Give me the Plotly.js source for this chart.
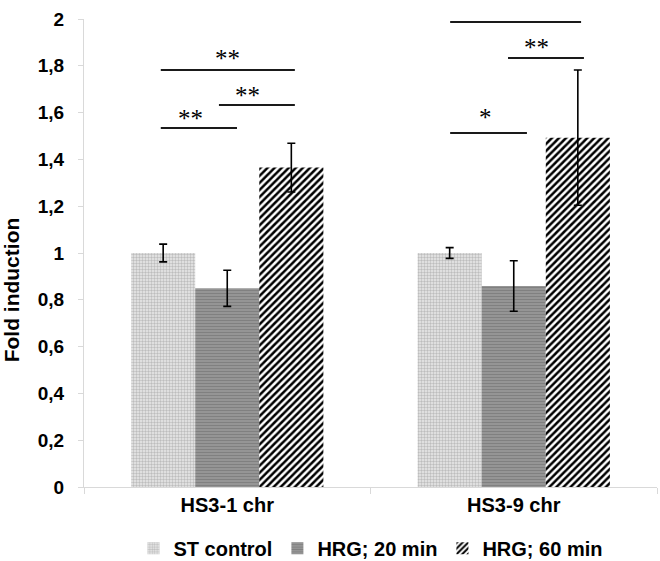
<!DOCTYPE html>
<html>
<head>
<meta charset="utf-8">
<script src="https://cdn.plot.ly/plotly-3.0.1.min.js"></script>
<style>html,body{margin:0;padding:0;background:#fff;}#chart{width:660px;height:561px;}</style>
</head>
<body>
<div id="chart"></div>
<script>
// ---- data ----
const categories = ['HS3-1 chr', 'HS3-9 chr'];
const seriesNames = ['ST control', 'HRG; 20 min', 'HRG; 60 min'];
const stControl = [1.0, 1.0];
const stControlErr = [0.038, 0.023];
const hrg20 = [0.849, 0.859];
const hrg20Err = [0.077, 0.108];
const hrg60 = [1.365, 1.493];
const hrg60Err = [0.104, 0.289];

const yTickVals = [0, 0.2, 0.4, 0.6, 0.8, 1, 1.2, 1.4, 1.6, 1.8, 2];
const yTickText = ['0', '0,2', '0,4', '0,6', '0,8', '1', '1,2', '1,4', '1,6', '1,8', '2'];

// significance brackets (category-index units on x, data units on y)
const bracketX0 = [-0.232, -0.029, -0.232, 0.778, 0.980, 0.778];
const bracketX1 = [0.236, 0.236, 0.034, 1.235, 1.245, 1.046];
const bracketY  = [1.782, 1.632, 1.534, 1.987, 1.833, 1.513];
const starX     = [0.0, 0.07, -0.13, 0.952, 1.081, 0.903];
const starY     = [1.830, 1.672, 1.574, 2.023, 1.877, 1.578];
const starText  = ['**', '**', '**', '**', '**', '*'];

const FONT = 'Liberation Sans, Arial, sans-serif';

const errStyle = {type: 'data', visible: true, color: '#000', thickness: 1.6, width: 4};

const traces = [
  {
    type: 'bar', name: seriesNames[0], x: categories, y: stControl,
    error_y: Object.assign({array: stControlErr}, errStyle),
    marker: {color: '#e3e3e3', line: {width: 0},
      pattern: {shape: '.', bgcolor: '#ebebeb', fgcolor: '#bdbdbd', size: 3, solidity: 0.5, fillmode: 'replace'}}
  },
  {
    type: 'bar', name: seriesNames[1], x: categories, y: hrg20,
    error_y: Object.assign({array: hrg20Err}, errStyle),
    marker: {color: '#909090', line: {width: 0},
      pattern: {shape: '-', bgcolor: '#9c9c9c', fgcolor: '#808080', size: 3, solidity: 0.5, fillmode: 'replace'}}
  },
  {
    type: 'bar', name: seriesNames[2], x: categories, y: hrg60,
    error_y: Object.assign({array: hrg60Err}, errStyle),
    marker: {color: '#ffffff', line: {width: 0},
      pattern: {shape: '/', bgcolor: '#ffffff', fgcolor: '#000000', size: 5, solidity: 0.5, fillmode: 'replace'}}
  }
];

const shapes = bracketY.map((y, i) => ({
  type: 'line', xref: 'x', yref: 'y',
  x0: bracketX0[i], x1: bracketX1[i], y0: y, y1: y,
  line: {color: '#1a1a1a', width: 2}
}));

const annotations = starText.map((t, i) => ({
  xref: 'x', yref: 'y', x: starX[i], y: starY[i], text: t,
  showarrow: false, xanchor: 'center', yanchor: 'middle',
  font: {family: 'Liberation Serif, Times New Roman, serif', size: 25, color: '#000'}
}));
annotations.push({
  xref: 'paper', yref: 'paper', x: -0.125, y: 0.421, text: 'Fold induction',
  textangle: -90, showarrow: false, xanchor: 'center', yanchor: 'middle',
  font: {family: FONT, size: 21, color: '#000', weight: 'bold'}
});

const layout = {
  width: 660, height: 561,
  margin: {l: 84, r: 3, t: 19, b: 74, autoexpand: false},
  paper_bgcolor: '#fff', plot_bgcolor: '#fff',
  barmode: 'group', bargap: 0.329, bargroupgap: 0,
  showlegend: true,
  legend: {orientation: 'h', x: 0.5, xanchor: 'center', y: -0.131, yanchor: 'middle',
    font: {family: FONT, size: 20, color: '#000', weight: 'bold'}, itemwidth: 30, traceorder: 'normal'},
  xaxis: {
    showline: true, linecolor: '#d9d9d9', linewidth: 1, automargin: false,
    ticks: 'outside', tickson: 'boundaries', ticklen: 6, tickcolor: '#d9d9d9',
    showgrid: false, zeroline: false,
    tickfont: {family: FONT, size: 20, color: '#000', weight: 'bold'}
  },
  yaxis: {
    range: [0, 2], showline: true, linecolor: '#d9d9d9', linewidth: 1, automargin: false,
    ticks: 'outside', ticklen: 5, tickcolor: '#d9d9d9',
    tickvals: yTickVals, ticktext: yTickText, ticklabelstandoff: 10,
    showgrid: false, zeroline: false,
    tickfont: {family: FONT, size: 19, color: '#000', weight: 'bold'}
  },
  shapes: shapes,
  annotations: annotations
};

Plotly.newPlot('chart', traces, layout, {displayModeBar: false, staticPlot: true});
</script>
</body>
</html>
